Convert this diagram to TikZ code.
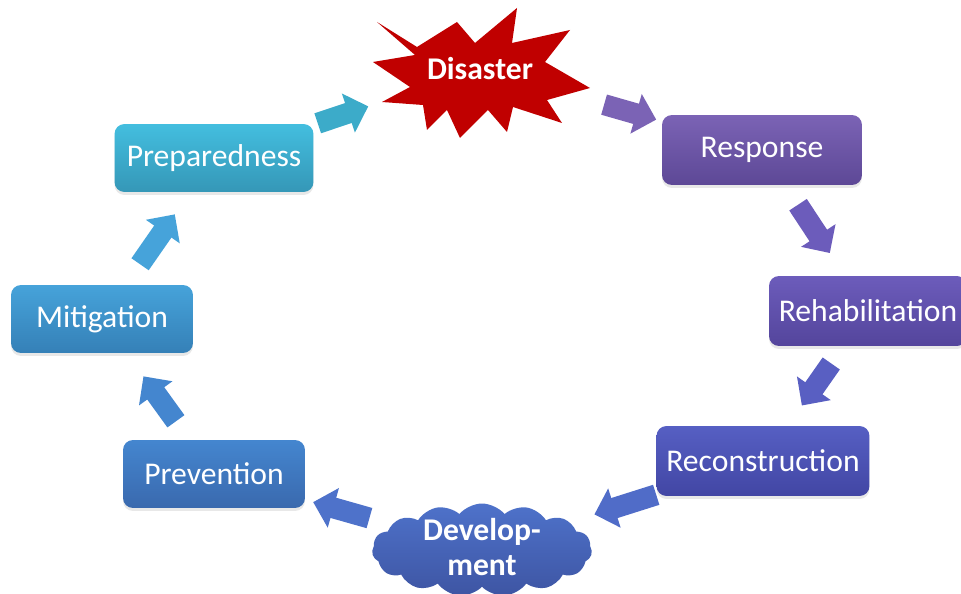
\documentclass[tikz,border=0pt]{standalone}
\usepackage{fontspec}
\usepackage{tikz}
\usetikzlibrary{calc,shapes.symbols,shadows,arrows.meta}
\newfontfamily\stagefont{Carlito}

\definecolor{prepTop}{HTML}{43BEDF}
\definecolor{prepBot}{HTML}{3597B7}
\definecolor{mitTop}{HTML}{46A3DA}
\definecolor{mitBot}{HTML}{3580B7}
\definecolor{prevTop}{HTML}{4486CF}
\definecolor{prevBot}{HTML}{3A69AE}
\definecolor{devTop}{HTML}{4E72CA}
\definecolor{devBot}{HTML}{3E55A3}
\definecolor{recTop}{HTML}{565FC3}
\definecolor{recBot}{HTML}{4246A4}
\definecolor{rehTop}{HTML}{6C5CBB}
\definecolor{rehBot}{HTML}{54459C}
\definecolor{respTop}{HTML}{7B63B5}
\definecolor{respBot}{HTML}{5D4896}
\definecolor{burst}{HTML}{C00000}

\begin{document}
\begin{tikzpicture}[x=0.02cm,y=-0.02cm,
    stage/.style={rounded corners=0.2cm, minimum height=1.36cm, text=white,
        font=\stagefont\fontsize{18}{21}\selectfont,
        drop shadow={opacity=0.18,shadow xshift=0pt,shadow yshift=-0.06cm}},
    flow/.style={line width=0.42cm, draw=#1, -{Triangle[length=0.42cm,width=0.8cm]}}]

\useasboundingbox (0,0) rectangle (961,594);

% the disaster explosion
\fill[burst] (377,22)--(417,47)--(457,22)--(475,43)--(517,8)--(512,43)--(570,30)
    --(545,62)--(590,88)--(547,100)--(562,123)--(513,107)--(507,132)--(488,110)
    --(460,138)--(447,110)--(427,130)--(423,105)--(382,102)--(410,87)--(373,62)
    --(415,55)--cycle;
\node[text=white, font=\stagefont\bfseries\fontsize{18}{21}\selectfont] (dis) at (480,69) {Disaster};

\node[stage, minimum width=3.98cm, top color=prepTop, bottom color=prepBot] (prep) at (214,158) {Preparedness};
\node[stage, minimum width=4cm, minimum height=1.4cm, top color=respTop, bottom color=respBot] (resp) at (762,150) {Response};
\node[stage, minimum width=3.96cm, minimum height=1.4cm, top color=rehTop, bottom color=rehBot] (reh) at (868,311) {Rehabilitation};
\node[stage, minimum width=4.26cm, minimum height=1.4cm, top color=recTop, bottom color=recBot] (rec) at (763,461) {Reconstruction};
\node[stage, minimum width=3.64cm, top color=prevTop, bottom color=prevBot] (prev) at (214,474) {Prevention};
\node[stage, minimum width=3.64cm, top color=mitTop, bottom color=mitBot] (mit) at (102,319) {Mitigation};

% development cloud, label set on top of it
\node[cloud, cloud puffs=15, cloud puff arc=100, cloud ignores aspect,
    minimum width=4.4cm, minimum height=1.86cm, inner sep=0pt,
    top color=devTop, bottom color=devBot] (dev) at (482,550) {};
\node[align=center, text=white, font=\stagefont\bfseries\fontsize{18}{20}\selectfont]
    (devlabel) at (482,547) {Develop-\\ment};

% arrows round the cycle
\draw[flow=prepTop!90!black] ($(prep)!0.39!(dis)$) -- ($(prep)!0.58!(dis)$);
\draw[flow=respTop] ($(dis)!0.44!(resp)$) -- ($(dis)!0.625!(resp)$);
\draw[flow=rehTop] ($(resp)!0.34!(reh)$) -- ($(resp)!0.64!(reh)$);
\draw[flow=recTop!85!rehTop] ($(reh)!0.35!(rec)$) -- ($(reh)!0.63!(rec)$);
\draw[flow=devTop!70!recTop] ($(rec)!0.38!(dev)$) -- ($(rec)!0.6!(dev)$);
\draw[flow=devTop] ($(dev)!0.42!(prev)$) -- ($(dev)!0.63!(prev)$);
\draw[flow=prevTop] ($(prev)!0.34!(mit)$) -- ($(prev)!0.63!(mit)$);
\draw[flow=mitTop] ($(mit)!0.34!(prep)$) -- ($(mit)!0.65!(prep)$);
\end{tikzpicture}
\end{document}
